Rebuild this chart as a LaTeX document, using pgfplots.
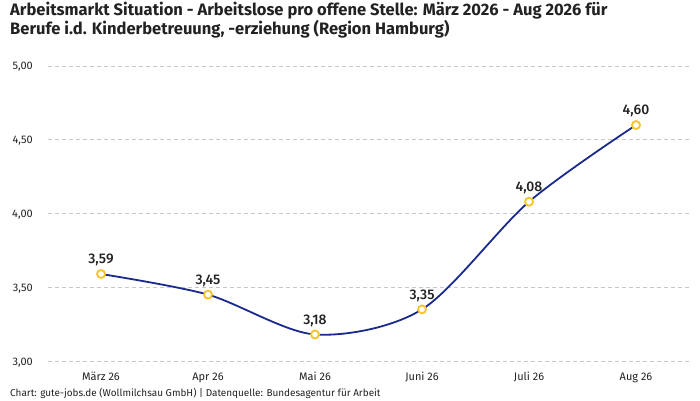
\documentclass[border=0pt]{standalone}
\usepackage{fontspec}
\setmainfont{Fira Sans}
\newfontfamily\medfont{Fira Sans Medium}
\usepackage{pgfplots}
\pgfplotsset{compat=1.18}
\definecolor{linecol}{RGB}{26,42,140}
\definecolor{markcol}{RGB}{246,196,40}
\definecolor{gridcol}{RGB}{200,200,200}
\definecolor{txt}{RGB}{34,34,34}
\begin{document}
\begin{tikzpicture}[x=1bp,y=1bp]
\useasboundingbox (0,0) rectangle (700,400);
\node[anchor=base west, inner sep=0, text=txt, font=\bfseries\fontsize{16.6}{20}\selectfont] at (10,385) {Arbeitsmarkt Situation - Arbeitslose pro offene Stelle: März 2026 - Aug 2026 für};
\node[anchor=base west, inner sep=0, text=txt, font=\bfseries\fontsize{16.6}{20}\selectfont] at (10,366) {Berufe i.d. Kinderbetreuung, -erziehung (Region Hamburg)};
\node[anchor=base west, inner sep=0, text=txt, font=\fontsize{10}{12}\selectfont] at (10,4) {Chart: gute-jobs.de (Wollmilchsau GmbH) | Datenquelle: Bundesagentur für Arbeit};
\begin{axis}[
  at={(47.5bp,39bp)}, anchor=south west,
  scale only axis, width=642bp, height=295bp,
  xmin=-0.5, xmax=5.5, ymin=3, ymax=5,
  clip=false,
  axis line style={draw=none},
  major tick length=0pt,
  xtick={0,1,2,3,4,5},
  xticklabels={März 26, Apr 26, Mai 26, Juni 26, Juli 26, Aug 26},
  ytick={3,3.5,4,4.5,5},
  yticklabels={{3,00},{3,50},{4,00},{4,50},{5,00}},
  xticklabel style={anchor=base, inner sep=0pt, yshift=-19bp, font=\fontsize{11}{13}\selectfont, text=txt},
  yticklabel style={anchor=base east, inner sep=0pt, xshift=-14.5bp, yshift=-4bp, font=\fontsize{11}{13}\selectfont, text=txt},
  ymajorgrids,
  grid style={gridcol, line width=0.8pt, dash pattern=on 4bp off 3bp},
  /pgf/number format/assume math mode=true,
]
\addplot[linecol, line width=1.8bp, smooth, tension=0.5,
  mark=*, mark size=4bp, mark options={draw=markcol, fill=white, line width=1.8bp},
  nodes near coords={\pgfmathprintnumber[fixed,fixed zerofill,precision=2,use comma]{\pgfplotspointmeta}},
  point meta=y,
  nodes near coords style={anchor=base, inner sep=0pt, yshift=10bp, text=txt, font=\medfont\fontsize{14}{16}\selectfont},
] coordinates {
  (0,3.59) (1,3.45) (2,3.18) (3,3.35) (4,4.08) (5,4.60)
};
\end{axis}
\end{tikzpicture}
\end{document}
